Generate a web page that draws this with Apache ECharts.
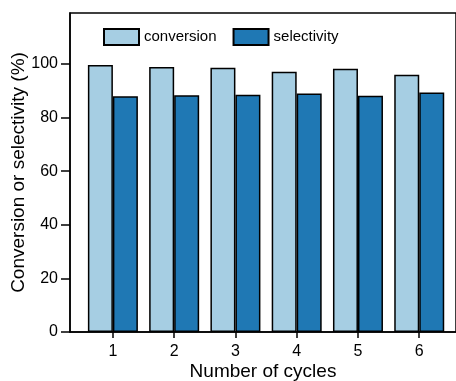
<!DOCTYPE html>
<html>
<head>
<meta charset="utf-8">
<script src="https://cdn.jsdelivr.net/npm/echarts@6/dist/echarts.min.js"></script>
<style>
  html, body { margin: 0; padding: 0; background: #fff; }
  #main { width: 456px; height: 381px; }
</style>
</head>
<body>
<div id="main"></div>
<script>
var cycles = [1, 2, 3, 4, 5, 6];
var conversion = [99.6, 98.9, 98.6, 97.1, 98.2, 96.0];
var selectivity = [87.9, 88.3, 88.5, 89.0, 88.1, 89.3];
var yTicks = [0, 20, 40, 60, 80, 100];

function pairs(vals) {
    var out = [];
    for (var i = 0; i < cycles.length; i++) {
        out.push([cycles[i], vals[i]]);
    }
    return out;
}

var font = 'Liberation Sans, Arial, sans-serif';
var myChart = echarts.init(document.getElementById('main'));
var option = {
    animation: false,
    textStyle: { fontFamily: font },
    grid: {
        left: 70,
        right: 0,
        top: 13,
        bottom: 49,
        outerBoundsMode: 'none',
        containLabel: false,
        show: true,
        borderColor: '#000',
        borderWidth: 1.5
    },
    legend: {
        left: 103,
        top: 28,
        padding: 0,
        icon: 'rect',
        itemWidth: 35,
        itemHeight: 16,
        itemGap: 16,
        textStyle: { fontSize: 15, color: '#000', fontFamily: font },
        data: ['conversion', 'selectivity']
    },
    xAxis: {
        type: 'value',
        min: 0.3,
        max: 6.6,
        name: 'Number of cycles',
        nameLocation: 'middle',
        nameGap: 30,
        nameMoveOverlap: false,
        nameTextStyle: { fontSize: 19, color: '#000' },
        splitLine: { show: false },
        axisLine: { lineStyle: { color: '#000', width: 1.5 } },
        axisTick: {
            customValues: cycles,
            length: 6,
            lineStyle: { color: '#000', width: 1.5 }
        },
        axisLabel: {
            customValues: cycles,
            fontSize: 16,
            color: '#000',
            margin: 12
        }
    },
    yAxis: {
        type: 'value',
        min: 0,
        max: 119,
        name: 'Conversion or selectivity (%)',
        nameLocation: 'middle',
        nameGap: 42,
        nameMoveOverlap: false,
        nameTextStyle: { fontSize: 19, color: '#000' },
        splitLine: { show: false },
        axisLine: { show: true, lineStyle: { color: '#000', width: 1.5 } },
        axisTick: {
            customValues: yTicks,
            length: 9,
            lineStyle: { color: '#000', width: 1.5 }
        },
        axisLabel: {
            customValues: yTicks,
            fontSize: 16,
            color: '#000',
            margin: 12
        }
    },
    series: [
        {
            name: 'conversion',
            type: 'bar',
            barWidth: 25,
            barGap: '0%',
            data: pairs(conversion),
            itemStyle: { color: '#a6cee3', borderColor: '#000', borderWidth: 1.5 }
        },
        {
            name: 'selectivity',
            type: 'bar',
            barWidth: 25,
            barGap: '0%',
            data: pairs(selectivity),
            itemStyle: { color: '#1f78b4', borderColor: '#000', borderWidth: 1.5 }
        }
    ]
};
myChart.setOption(option);
</script>
</body>
</html>
